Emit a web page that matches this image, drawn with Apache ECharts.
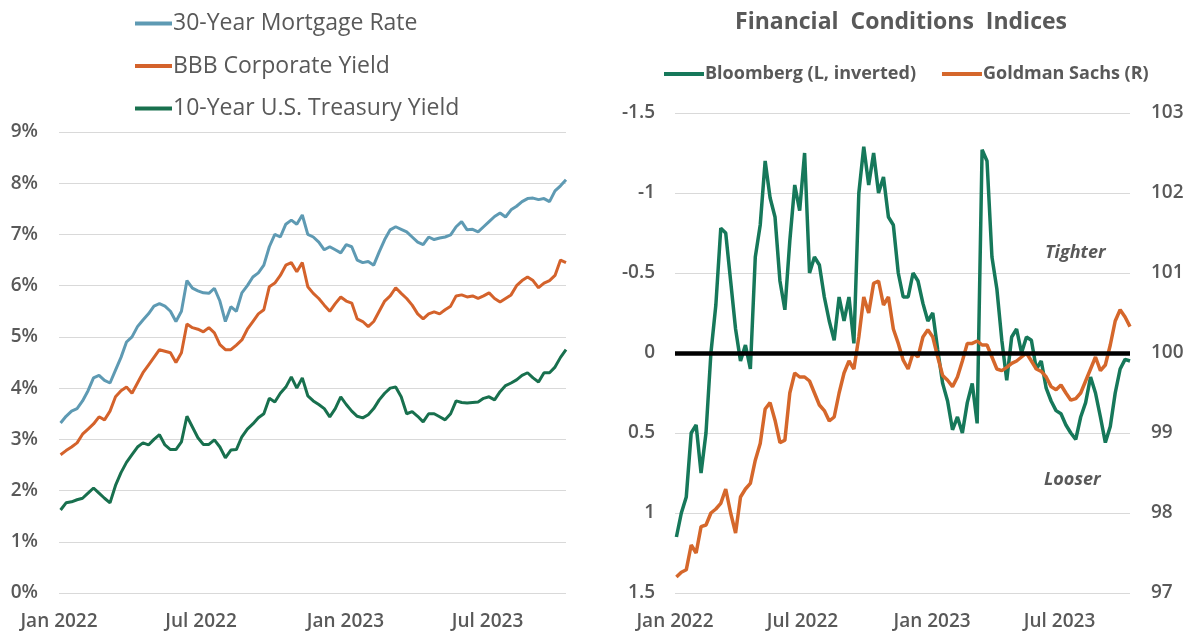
<!DOCTYPE html>
<html>
<head>
<meta charset="utf-8">
<script src="https://cdn.jsdelivr.net/npm/echarts@6/dist/echarts.min.js"></script>
<style>
  html, body { margin: 0; padding: 0; background: #ffffff; }
  #chart { width: 1189px; height: 634px; }
</style>
</head>
<body>
<div id="chart"></div>
<script>
// Weekly observations, first Monday of 2022 onward
const firstWeek = Date.UTC(2022, 0, 3);
const weekCount = 93;
const weeks = [];
for (let i = 0; i < weekCount; i++) weeks.push(firstWeek + i * 7 * 86400000);

// Left panel: rates, percent
const mortgage30y = [
  3.32, 3.45, 3.55, 3.6, 3.75, 3.95, 4.2, 4.25, 4.15, 4.1,
  4.35, 4.6, 4.9, 5.0, 5.2, 5.33, 5.45, 5.6, 5.65, 5.6,
  5.5, 5.3, 5.5, 6.1, 5.95, 5.9, 5.86, 5.85, 5.95, 5.7,
  5.3, 5.59, 5.5, 5.86, 6.0, 6.17, 6.25, 6.4, 6.76, 7.0,
  6.95, 7.2, 7.28, 7.2, 7.38, 7.0, 6.95, 6.85, 6.7, 6.76,
  6.7, 6.64, 6.8, 6.76, 6.5, 6.45, 6.47, 6.4, 6.66, 6.9,
  7.09, 7.15, 7.1, 7.05, 6.95, 6.85, 6.8, 6.95, 6.9, 6.93,
  6.95, 6.99, 7.15, 7.25, 7.09, 7.1, 7.05, 7.15, 7.25, 7.35,
  7.42, 7.34, 7.48, 7.55, 7.64, 7.7, 7.71, 7.68, 7.7, 7.64,
  7.85, 7.95, 8.07
];
const bbbYield = [
  2.7, 2.78, 2.85, 2.93, 3.1, 3.2, 3.3, 3.44, 3.38, 3.55,
  3.83, 3.95, 4.02, 3.9, 4.1, 4.3, 4.45, 4.6, 4.75, 4.72,
  4.69, 4.5, 4.69, 5.25, 5.18, 5.15, 5.1, 5.18, 5.08, 4.85,
  4.75, 4.75, 4.84, 4.94, 5.15, 5.3, 5.45, 5.53, 5.98, 6.05,
  6.2, 6.4, 6.45, 6.27, 6.45, 5.98, 5.85, 5.75, 5.62, 5.5,
  5.65, 5.78, 5.7, 5.66, 5.35, 5.3, 5.2, 5.3, 5.5, 5.7,
  5.8, 5.96, 5.85, 5.75, 5.62, 5.45, 5.35, 5.45, 5.49, 5.45,
  5.53, 5.6, 5.8, 5.82, 5.78, 5.8, 5.75, 5.8, 5.86, 5.75,
  5.68, 5.75, 5.82, 6.0, 6.1, 6.17, 6.1, 5.96, 6.05, 6.1,
  6.2, 6.5, 6.45
];
const treasury10y = [
  1.62, 1.76, 1.78, 1.82, 1.85, 1.95, 2.05, 1.95, 1.85, 1.76,
  2.1, 2.35, 2.55, 2.7, 2.85, 2.93, 2.89, 3.0, 3.09, 2.89,
  2.8, 2.8, 2.95, 3.45, 3.24, 3.03, 2.9, 2.9, 2.99, 2.85,
  2.64, 2.79, 2.8, 3.05, 3.2, 3.3, 3.42, 3.5, 3.8, 3.73,
  3.9, 4.02, 4.22, 4.0, 4.2, 3.85, 3.75, 3.68, 3.6, 3.44,
  3.6, 3.83, 3.68, 3.55, 3.45, 3.42, 3.48, 3.6, 3.77, 3.9,
  4.0, 4.02, 3.83, 3.5, 3.54, 3.45, 3.34, 3.5, 3.5, 3.44,
  3.38, 3.5, 3.75, 3.72, 3.71, 3.72, 3.73, 3.8, 3.83, 3.77,
  3.93, 4.05, 4.1, 4.16, 4.25, 4.3, 4.2, 4.12, 4.3, 4.3,
  4.41, 4.6, 4.75
];

// Right panel: financial conditions indices
const bloombergFci = [
  1.15, 1.0, 0.9, 0.5, 0.45, 0.75, 0.5, 0.0, -0.3, -0.78,
  -0.75, -0.45, -0.15, 0.05, -0.05, 0.1, -0.6, -0.8, -1.2, -0.97,
  -0.85, -0.45, -0.27, -0.7, -1.05, -0.89, -1.25, -0.5, -0.6, -0.55,
  -0.35, -0.2, -0.08, -0.35, -0.2, -0.35, -0.06, -1.0, -1.29, -1.05,
  -1.25, -1.0, -1.1, -0.85, -0.8, -0.5, -0.35, -0.35, -0.5, -0.45,
  -0.31, -0.2, -0.25, -0.02, 0.19, 0.3, 0.48, 0.4, 0.5, 0.31,
  0.19, 0.44, -1.27, -1.2, -0.6, -0.4, -0.08, 0.17, -0.1, -0.15,
  0.0, -0.1, -0.08, 0.1, 0.05, 0.22, 0.3, 0.36, 0.38, 0.45,
  0.5, 0.54, 0.4, 0.31, 0.15, 0.25, 0.4, 0.56, 0.46, 0.25,
  0.1, 0.04, 0.05
];
const goldmanFci = [
  97.2, 97.26, 97.29, 97.6, 97.5, 97.83, 97.85, 98.0, 98.05, 98.12,
  98.3, 98.0, 97.75, 98.2, 98.3, 98.37, 98.66, 98.87, 99.3, 99.38,
  99.16, 98.88, 98.91, 99.5, 99.75, 99.7, 99.7, 99.65, 99.5, 99.35,
  99.28, 99.15, 99.2, 99.5, 99.75, 99.9, 99.8, 100.2, 100.7, 100.5,
  100.87, 100.9, 100.6, 100.7, 100.3, 100.12, 99.91, 99.8, 100.0, 99.95,
  100.2, 100.29, 100.2, 99.95, 99.72, 99.66, 99.58, 99.7, 99.9, 100.12,
  100.12, 100.15, 100.1, 100.1, 99.95, 99.8, 99.78, 99.82, 99.87, 99.9,
  99.95, 100.0, 99.9, 99.8, 99.77, 99.7, 99.58, 99.54, 99.6, 99.5,
  99.41, 99.43, 99.5, 99.65, 99.8, 99.95, 99.78, 99.85, 100.1, 100.4,
  100.54, 100.45, 100.33
];

// Axis ticks
const dateTicks = [Date.UTC(2022, 0, 1), Date.UTC(2022, 6, 1), Date.UTC(2023, 0, 1), Date.UTC(2023, 6, 1)];
const dateTickLabels = ['Jan 2022', 'Jul 2022', 'Jan 2023', 'Jul 2023'];
const xMin = Date.UTC(2022, 0, 1);
const xMax = Date.UTC(2023, 9, 9);

const pair = vals => weeks.map((d, i) => [d, vals[i]]);

const FONT = '"Open Sans", Lato, sans-serif';
const TXT = '#595959';
const GRID_LINE = '#d9d9d9';

const dateLabel = v => {
  const k = dateTicks.indexOf(v);
  return k >= 0 ? dateTickLabels[k] : '';
};

const tickFont = { color: TXT, fontFamily: FONT, fontSize: 19, fontWeight: 600 };

// Date positions on a numeric (ms) axis, labelled at half-year marks
const xAxisBase = gridIndex => ({
  type: 'value',
  gridIndex,
  min: xMin,
  max: xMax,
  axisLine: { show: false },
  axisTick: { show: false },
  splitLine: { show: false },
  axisLabel: Object.assign({
    customValues: dateTicks,
    formatter: dateLabel,
    margin: 19,
    hideOverlap: false
  }, tickFont)
});

const chart = echarts.init(document.getElementById('chart'), null, { renderer: 'canvas' });

chart.setOption({
  animation: false,
  backgroundColor: '#ffffff',
  textStyle: { fontFamily: FONT },
  title: {
    text: 'Financial  Conditions  Indices',
    left: 896, top: 6, textAlign: 'center',
    textStyle: { color: TXT, fontFamily: FONT, fontSize: 23, fontWeight: 'bold' }
  },
  legend: [
    {
      data: ['30-Year Mortgage Rate', 'BBB Corporate Yield', '10-Year U.S. Treasury Yield'],
      orient: 'vertical', left: 130, top: 7, itemGap: 19.5,
      icon: 'rect', itemWidth: 37, itemHeight: 4,
      textStyle: { color: TXT, fontFamily: FONT, fontSize: 23, padding: [0, 0, 0, -4] }
    },
    {
      data: ['Bloomberg (L, inverted)', 'Goldman Sachs (R)'],
      orient: 'horizontal', left: 659, top: 60, itemGap: 26,
      icon: 'rect', itemWidth: 40, itemHeight: 4,
      textStyle: { color: TXT, fontFamily: FONT, fontSize: 18, fontWeight: 'bold', padding: [0, 0, 0, -4] }
    }
  ],
  grid: [
    { left: 59, top: 132, width: 507, height: 461 },
    { left: 675, top: 113, width: 455, height: 480 }
  ],
  xAxis: [xAxisBase(0), xAxisBase(1)],
  yAxis: [
    {
      type: 'value', gridIndex: 0, min: 0, max: 9, interval: 1,
      axisLine: { show: false }, axisTick: { show: false },
      splitLine: { lineStyle: { color: GRID_LINE, width: 1 } },
      axisLabel: Object.assign({ formatter: '{value}%', margin: 21 }, tickFont)
    },
    {
      type: 'value', gridIndex: 1, inverse: true, min: -1.5, max: 1.5, interval: 0.5,
      axisLine: { show: false }, axisTick: { show: false },
      splitLine: { lineStyle: { color: GRID_LINE, width: 1 } },
      axisLabel: Object.assign({ margin: 20 }, tickFont)
    },
    {
      type: 'value', gridIndex: 1, position: 'right', min: 97, max: 103, interval: 1,
      axisLine: { show: false }, axisTick: { show: false },
      splitLine: { show: false },
      axisLabel: Object.assign({ margin: 21 }, tickFont)
    }
  ],
  series: [
    {
      name: '30-Year Mortgage Rate', type: 'line', xAxisIndex: 0, yAxisIndex: 0,
      data: pair(mortgage30y), showSymbol: false, symbol: 'none',
      color: '#5e9ab3', lineStyle: { width: 3, color: '#5e9ab3' }
    },
    {
      name: 'BBB Corporate Yield', type: 'line', xAxisIndex: 0, yAxisIndex: 0,
      data: pair(bbbYield), showSymbol: false, symbol: 'none',
      color: '#d4622b', lineStyle: { width: 3, color: '#d4622b' }
    },
    {
      name: '10-Year U.S. Treasury Yield', type: 'line', xAxisIndex: 0, yAxisIndex: 0,
      data: pair(treasury10y), showSymbol: false, symbol: 'none',
      color: '#18704e', lineStyle: { width: 3, color: '#18704e' }
    },
    {
      name: 'Bloomberg (L, inverted)', type: 'line', xAxisIndex: 1, yAxisIndex: 1,
      data: pair(bloombergFci), showSymbol: false, symbol: 'none',
      color: '#16785a', lineStyle: { width: 3.5, color: '#16785a' },
      markLine: {
        silent: true, symbol: ['none', 'none'], label: { show: false },
        lineStyle: { color: '#000000', width: 4.5, type: 'solid' },
        data: [{ yAxis: 0 }]
      }
    },
    {
      name: 'Goldman Sachs (R)', type: 'line', xAxisIndex: 1, yAxisIndex: 2,
      data: pair(goldmanFci), showSymbol: false, symbol: 'none',
      color: '#d5672b', lineStyle: { width: 3.5, color: '#d5672b' }
    }
  ],
  graphic: [
    {
      type: 'text', left: 1045, top: 244,
      style: { text: 'Tighter', fill: TXT, font: 'italic bold 18px ' + FONT }
    },
    {
      type: 'text', left: 1044, top: 471,
      style: { text: 'Looser', fill: TXT, font: 'italic bold 18px ' + FONT }
    }
  ]
});
</script>
</body>
</html>
